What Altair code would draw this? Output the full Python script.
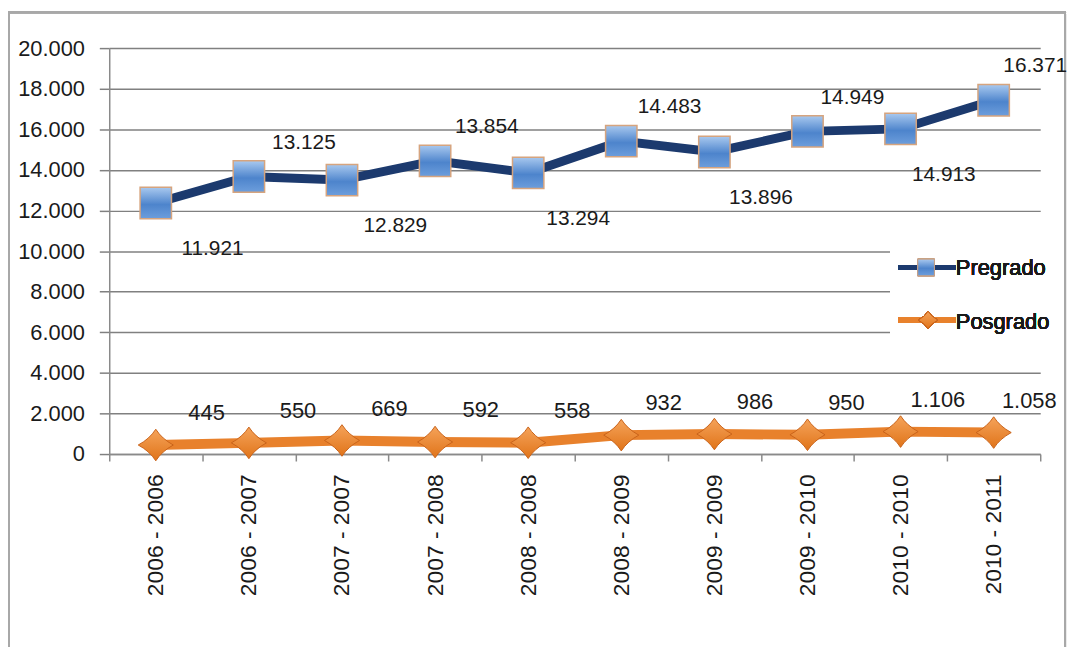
import altair as alt
import pandas as pd

# ---- data ----
categories = ["2006 - 2006", "2006 - 2007", "2007 - 2007", "2007 - 2008", "2008 - 2008",
              "2008 - 2009", "2009 - 2009", "2009 - 2010", "2010 - 2010", "2010 - 2011"]
pregrado = [11921, 13125, 12829, 13854, 13294, 14483, 13896, 14949, 14913, 16371]
posgrado = [445, 550, 669, 592, 558, 932, 986, 950, 1106, 1058]
series = ["Pregrado", "Posgrado"]
y_ticks = [0, 2000, 4000, 6000, 8000, 10000, 12000, 14000, 16000, 18000, 20000]

df = pd.DataFrame({
    "cat": categories,
    "pre": pregrado,
    "pos": posgrado,
    "idx": list(range(len(categories))),
})

NAVY = "#1c3a6e"
ORANGE = "#e8812c"
FONT = "Liberation Sans"
W, H = 938, 409

fmt = "replace(format({f}, ','), ',', '.')"

xenc = alt.X("cat:N", sort=categories,
             scale=alt.Scale(type="band", paddingInner=0, paddingOuter=0),
             axis=alt.Axis(title=None, labelAngle=-90, tickBand="extent", tickSize=7,
                           labelPadding=13, labelFontSize=23, labelFont=FONT,
                           labelColor="#1a1a1a", domainColor="#8a8a8a", tickColor="#8a8a8a",
                           domainWidth=1.5, tickWidth=1.5, grid=False))
# data labels sit on a slightly narrower, right-shifted band scale (as in the reference)
xlbl = alt.X("cat:N", sort=categories,
             scale=alt.Scale(type="band", paddingInner=0, paddingOuter=0, range=[52, 973]),
             axis=None)
yscale = alt.Scale(domain=[0, 20000], nice=False, zero=True)
yaxis = alt.Axis(title=None, values=y_ticks, labelExpr=fmt.format(f="datum.value"),
                 tickSize=10, labelPadding=15, labelFontSize=22, labelFont=FONT,
                 labelColor="#1a1a1a", grid=True, gridColor="#808080", gridWidth=1.5,
                 domainColor="#8a8a8a", tickColor="#808080", domainWidth=1.5, tickWidth=1.5)

base = alt.Chart(df).transform_calculate(
    tot="datum.pre + datum.pos",
    pre_lbl=fmt.format(f="datum.pre"),
    pos_lbl=fmt.format(f="datum.pos"),
    odd="datum.idx % 2",
)

sq_fill = alt.LinearGradient(gradient="linear", x1=0, x2=0, y1=0, y2=1,
                             stops=[alt.GradientStop(color="#a9c9ef", offset=0),
                                    alt.GradientStop(color="#4d84cc", offset=0.55),
                                    alt.GradientStop(color="#6d9edc", offset=1)])
dia_fill = alt.LinearGradient(gradient="linear", x1=0, x2=0, y1=0, y2=1,
                              stops=[alt.GradientStop(color="#f5a35a", offset=0),
                                     alt.GradientStop(color="#e07419", offset=1)])
DIAMOND = "M0,-0.9 Q0.35,-0.35 1,0 Q0.35,0.35 0,0.9 Q-0.35,0.35 -1,0 Q-0.35,-0.35 0,-0.9 Z"

pos_line = base.mark_line(color=ORANGE, strokeWidth=10).encode(
    x=xenc, y=alt.Y("pos:Q", scale=yscale, axis=yaxis))
pos_pts = base.mark_point(shape=DIAMOND, size=1250, filled=True, fill=dia_fill,
                          stroke="#c9631a", strokeWidth=1, opacity=1).encode(
    x=xenc, y=alt.Y("pos:Q", scale=yscale))
pre_line = base.mark_line(color=NAVY, strokeWidth=9).encode(
    x=xenc, y=alt.Y("tot:Q", scale=yscale))
pre_pts = base.mark_point(shape="square", size=1000, filled=True, fill=sq_fill,
                          stroke="#d6a47e", strokeWidth=1.5, opacity=1).encode(
    x=xenc, y=alt.Y("tot:Q", scale=yscale))

pre_lbl_below = base.transform_filter("datum.odd == 0").mark_text(
    font=FONT, fontSize=21, color="#1a1a1a", dx=6, dy=46).encode(
    x=xlbl, y=alt.Y("tot:Q", scale=yscale), text="pre_lbl:N")
pre_lbl_above = base.transform_filter("datum.odd == 1").mark_text(
    font=FONT, fontSize=21, color="#1a1a1a", dx=6, dy=-34).encode(
    x=xlbl, y=alt.Y("tot:Q", scale=yscale), text="pre_lbl:N")
pos_lbl = base.mark_text(font=FONT, fontSize=22, color="#1a1a1a", dy=-32).encode(
    x=xlbl, y=alt.Y("pos:Q", scale=yscale), text="pos_lbl:N")

# ---- legend (drawn inside the plot, as in the reference) ----
leg_box = alt.Chart(df).mark_rect(fill="white", stroke=None).encode(
    x=alt.value(787), x2=alt.value(940), y=alt.value(192), y2=alt.value(296))
leg_l1 = alt.Chart(df).mark_rule(color=NAVY, strokeWidth=5).encode(
    x=alt.value(795), x2=alt.value(853), y=alt.value(221))
leg_s1 = alt.Chart(df).mark_point(shape="square", size=280, filled=True, fill=sq_fill,
                                  stroke="#c9a083", strokeWidth=1, opacity=1).encode(
    x=alt.value(823), y=alt.value(221))
leg_t1 = alt.Chart(df).mark_text(font=FONT, fontSize=22, color="#1a1a1a", align="left",
                                 baseline="middle").encode(
    x=alt.value(853), y=alt.value(222), text=alt.value(series[0]))
leg_l2 = alt.Chart(df).mark_rule(color=ORANGE, strokeWidth=5).encode(
    x=alt.value(795), x2=alt.value(853), y=alt.value(274))
leg_s2 = alt.Chart(df).mark_point(shape=DIAMOND, size=380, filled=True, fill=dia_fill,
                                  stroke="#c9631a", strokeWidth=1, opacity=1).encode(
    x=alt.value(825), y=alt.value(274))
leg_t2 = alt.Chart(df).mark_text(font=FONT, fontSize=22, color="#1a1a1a", align="left",
                                 baseline="middle").encode(
    x=alt.value(853), y=alt.value(276), text=alt.value(series[1]))

frame = alt.Chart(df).mark_rect(fill=None, stroke="#a8a8a8", strokeWidth=2).encode(
    x=alt.value(-101), x2=alt.value(963), y=alt.value(-36), y2=alt.value(640))

marks = alt.layer(frame, pos_line, pos_pts, pre_line, pre_pts)
labels = alt.layer(pre_lbl_below, pre_lbl_above, pos_lbl)
legend = alt.layer(leg_box, leg_l1, leg_s1, leg_t1, leg_l2, leg_s2, leg_t2)

chart = alt.layer(marks, labels, legend).resolve_scale(
    x="independent"
).properties(
    width=W, height=H,
    autosize=alt.AutoSizeParams(type="none"),
    padding={"left": 102, "top": 38, "right": 30, "bottom": 192},
    background="white",
).configure_view(stroke=None)

chart.save("out.html", embed_options={"renderer": "svg", "actions": False})
